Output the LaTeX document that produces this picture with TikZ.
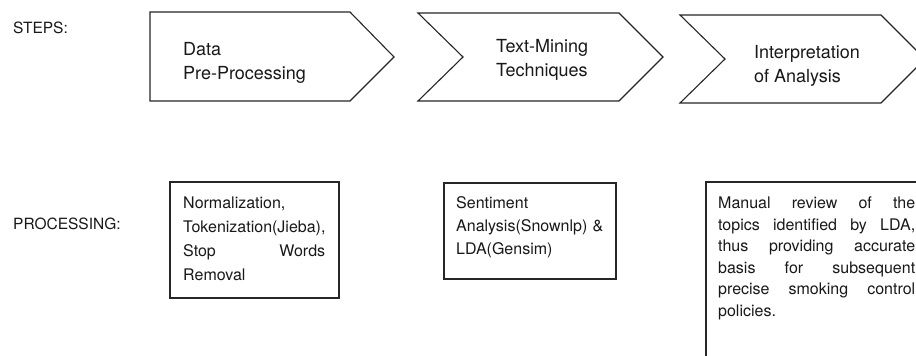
\documentclass[tikz,border=0pt]{standalone}
\usepackage{fontspec}
\setmainfont{TeX Gyre Heros}
\newcommand\jstretch[2]{\makebox[#1][s]{\spaceskip=.28em plus 1fil\relax #2}}
\begin{document}
\begin{tikzpicture}[x=1pt,y=-1pt,
  shapeline/.style={draw=black!85, line width=1.1pt, line join=miter},
  steptext/.style={anchor=north west, inner sep=0pt, align=left, text=black!90,
    font=\fontsize{18}{24}\selectfont},
  boxtext/.style={anchor=north west, inner sep=0pt, align=left, text=black!90,
    font=\fontsize{16}{23}\selectfont},
  label/.style={anchor=west, inner sep=0pt, text=black!90, font=\fontsize{15.5}{18}\selectfont}]
\useasboundingbox (0,0) rectangle (916,356);
\clip (0,0) rectangle (916,356);
\fill[white] (0,0) rectangle (916,356);
% labels
\node[label] (lsteps) at (13,27.5) {STEPS:};
\node[label] (lproc) at (13,224) {PROCESSING:};
% step shapes
\draw[shapeline] (150,12) -- (350,12) -- (394,57) -- (350,101) -- (150,101) -- cycle;
\draw[shapeline] (418,13) -- (619,13) -- (663,57) -- (619,101) -- (418,101) -- (463,57) -- cycle;
\draw[shapeline] (680,15) -- (881,15) -- (925,59) -- (881,103) -- (680,103) -- (725,59) -- cycle;
\node[steptext] (s1) at (183,42) {Data\\Pre-Processing};
\node[steptext] (s2) at (496,39) {Text-Mining\\Techniques};
\node[steptext] (s3) at (754,45) {Interpretation\\of Analysis};
% processing boxes
\draw[shapeline] (170,182) rectangle (339,298);
\draw[shapeline] (444,183) rectangle (616,279);
\draw[shapeline] (706,182) rectangle (930,370);
\node[boxtext, text width=142pt, font=\fontsize{16}{24}\selectfont] (p1) at (183,197)
  {Normalization,\\Tokenization(Jieba),\\\jstretch{142pt}{Stop Words}\\Removal};
\node[boxtext, text width=156pt] (p2) at (456,196)
  {Sentiment\\Analysis(Snownlp) \&\\LDA(Gensim)};
\node[boxtext, text width=197pt, font=\fontsize{16}{21.5}\selectfont] (p3) at (718,197)
  {\jstretch{197pt}{Manual review of the}\\\jstretch{197pt}{topics identified by LDA,}\\\jstretch{197pt}{thus providing accurate}\\\jstretch{197pt}{basis for subsequent}\\\jstretch{197pt}{precise smoking control}\\policies.};
\end{tikzpicture}
\end{document}
